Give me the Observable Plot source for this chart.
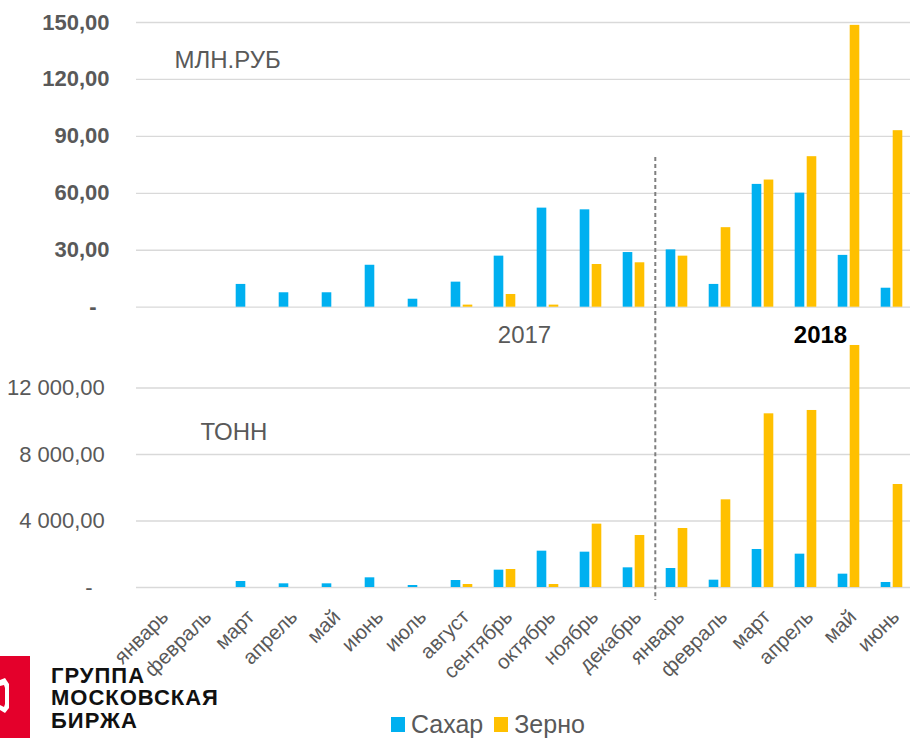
<!DOCTYPE html>
<html><head><meta charset="utf-8">
<script src="https://cdn.jsdelivr.net/npm/d3@7"></script>
<script src="https://cdn.jsdelivr.net/npm/@observablehq/plot@0.6"></script>
<style>
html,body{margin:0;padding:0;background:#fff}
body{width:910px;height:738px;overflow:hidden;position:relative;font-family:"Liberation Sans",Arial,sans-serif}
#top{position:absolute;left:0;top:0}
#bottom{position:absolute;left:0;top:320px}
#legend{position:absolute;left:391px;top:712px;display:flex;align-items:center;font-size:25px;color:#595959;line-height:25px;height:25px}
#legend .item{display:flex;align-items:center;margin-right:11px}
#legend .sw{width:14px;height:15px;margin-right:6px}
#logo-bar{position:absolute;left:0;top:656px;width:30px;height:82px;background:#E4002B}
#logo-icon{position:absolute;left:0;top:676px}
#logo-text{position:absolute;left:51px;top:664.5px;font-size:22px;font-weight:bold;line-height:22.5px;letter-spacing:1px;color:#111}
</style></head><body>
<div id="top"></div>
<div id="bottom"></div>
<div id="logo-bar"></div>
<svg id="logo-icon" width="12" height="40"><path d="M0 4 L5 2 L9 8 L9 32 L5 37 L0 34 Z" fill="#fff"/><path d="M0 10 L4 9 L5 12 L5 28 L4 31 L0 29 Z" fill="#E4002B"/></svg>
<div id="logo-text">ГРУППА<br>МОСКОВСКАЯ<br>БИРЖА</div>
<div id="legend"></div>
<script>
// ---- data ----
const monthNames = ["январь","февраль","март","апрель","май","июнь","июль","август","сентябрь","октябрь","ноябрь","декабрь","январь","февраль","март","апрель","май","июнь"];
const periods = ["2017-01","2017-02","2017-03","2017-04","2017-05","2017-06","2017-07","2017-08","2017-09","2017-10","2017-11","2017-12","2018-01","2018-02","2018-03","2018-04","2018-05","2018-06"];
const seriesNames = ["Сахар","Зерно"];
const seriesColors = ["#00B0F0","#FFC000"];
const sugarRub = [0,0,12.0,7.6,7.6,22.1,4.2,13.2,26.9,52.2,51.3,28.8,30.2,12.0,64.7,60.1,27.3,10.0];
const grainRub = [0,0,0,0,0,0,0,1.1,6.7,1.1,22.5,23.4,26.9,41.9,67.0,79.3,148.5,93.0];
const sugarTon = [0,0,361,221,221,582,120,421,1042,2185,2125,1183,1143,441,2286,2005,802,301];
const grainTon = [0,0,0,0,0,0,0,180,1083,180,3810,3128,3549,5273,10446,10647,14556,6195];
const rubTicks = [30,60,90,120,150];
const tonTicks = [4000,8000,12000];
const yearLabels = ["2017","2018"];
const unitLabels = ["МЛН.РУБ","ТОНН"];

// ---- helpers ----
const loc = d3.formatLocale({decimal:",", thousands:"\u00a0", grouping:[3], currency:["",""]});
const fmt = loc.format(",.2f");
const rowsRub = periods.map((p,i)=>({period:p, sugar:sugarRub[i], grain:grainRub[i]}));
const rowsTon = periods.map((p,i)=>({period:p, sugar:sugarTon[i], grain:grainTon[i]}));
const xRange = [135.6, 916.8];
const gridStyle = {stroke:"#d9d9d9", strokeOpacity:1, strokeWidth:1.3};
const dashStyle = {stroke:"#7f7f7f", strokeWidth:2, strokeDasharray:"4,3", dx:-21.7};
const font = "Liberation Sans, Arial, sans-serif";

const topPlot = Plot.plot({
  width:910, height:320,
  marginTop:22, marginBottom:13.3, marginLeft:136, marginRight:0,
  style:{fontFamily:font, overflow:"visible", background:"transparent"},
  x:{domain:periods, range:xRange, padding:0, axis:null},
  y:{domain:[0,150], axis:null},
  marks:[
    Plot.gridY([0,...rubTicks], gridStyle),
    Plot.barY(rowsRub, {x:"period", y:"sugar", fill:seriesColors[0], insetLeft:10.7, insetRight:22.7}),
    Plot.barY(rowsRub, {x:"period", y:"grain", fill:seriesColors[1], insetLeft:22.7, insetRight:10.7}),
    Plot.axisY(rubTicks, {tickSize:0, tickPadding:27, tickFormat:fmt, fontSize:22, fontWeight:"bold", fill:"#595959", label:null}),
    Plot.text([0], {y:d=>d, frameAnchor:"left", dx:-43.5, text:()=>"-", textAnchor:"middle", fontSize:22, fontWeight:"bold", fill:"#595959"}),
    Plot.ruleX([periods[12]], {x:d=>d, y1:78.9, y2:-7, ...dashStyle}),
    Plot.text([unitLabels[0]], {text:d=>d, frameAnchor:"top-left", dx:38, dy:28, lineAnchor:"top", fontSize:24, fill:"#595959"})
  ]
});
document.getElementById("top").append(topPlot);

const bottomPlot = Plot.plot({
  width:910, height:360,
  marginTop:17.6, marginBottom:93, marginLeft:136, marginRight:0,
  style:{fontFamily:font, overflow:"visible", background:"transparent"},
  x:{domain:periods, range:xRange, padding:0, axis:null, label:null},
  y:{domain:[0,15000], axis:null},
  marks:[
    Plot.gridY([0,...tonTicks], gridStyle),
    Plot.barY(rowsTon, {x:"period", y:"sugar", fill:seriesColors[0], insetLeft:10.7, insetRight:22.7}),
    Plot.barY(rowsTon, {x:"period", y:"grain", fill:seriesColors[1], insetLeft:22.7, insetRight:10.7}),
    Plot.axisY(tonTicks, {tickSize:0, tickPadding:31.7, tickFormat:fmt, fontSize:22, fill:"#595959", label:null}),
    Plot.text([0], {y:d=>d, frameAnchor:"left", dx:-47.5, text:()=>"-", textAnchor:"middle", fontSize:22, fill:"#595959"}),
    Plot.axisX({tickSize:0, tickPadding:26, tickRotate:-45, tickFormat:d=>monthNames[periods.indexOf(d)], fontSize:20.5, fill:"#595959", label:null, dx:4}),
    Plot.ruleX([periods[12]], {x:d=>d, y1:16100, y2:-780, ...dashStyle}),
    Plot.text([unitLabels[1]], {text:d=>d, frameAnchor:"top-left", dx:64, dy:84.4, lineAnchor:"top", fontSize:24, fill:"#595959"}),
    Plot.text([yearLabels[0]], {text:d=>d, frameAnchor:"top-left", dx:388, dy:-12.6, lineAnchor:"top", textAnchor:"middle", fontSize:24, fill:"#595959"}),
    Plot.text([yearLabels[1]], {text:d=>d, frameAnchor:"top-left", dx:684, dy:-12.6, lineAnchor:"top", textAnchor:"middle", fontSize:24, fontWeight:"bold", fill:"#000"})
  ]
});
document.getElementById("bottom").append(bottomPlot);

// legend
const legend = document.getElementById("legend");
seriesNames.forEach((n,i)=>{
  const it = document.createElement("div"); it.className="item";
  const sw = document.createElement("div"); sw.className="sw"; sw.style.background=seriesColors[i];
  const tx = document.createElement("span"); tx.textContent=n;
  it.append(sw,tx); legend.append(it);
});
</script>
</body></html>
